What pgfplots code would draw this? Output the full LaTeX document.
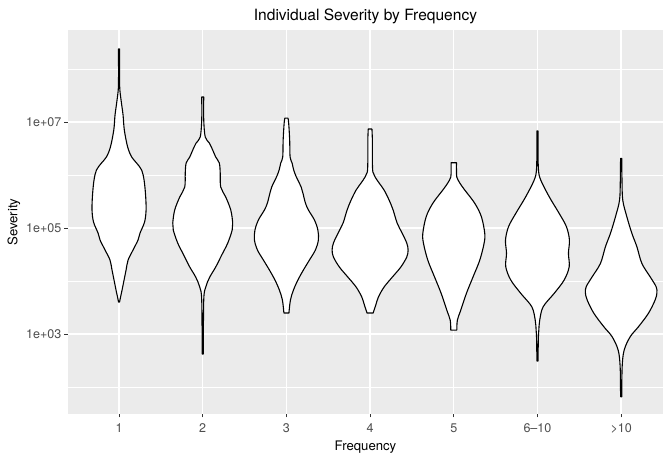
\documentclass[border=0pt]{standalone}
\usepackage{fontspec}
\setmainfont{TeX Gyre Heros}
\usepackage{pgfplots}
\usepgfplotslibrary{fillbetween}
\usepackage{pgfplotstable}
\pgfplotsset{compat=1.18}

\definecolor{panelbg}{HTML}{EBEBEB}
\definecolor{grey20}{HTML}{333333}
\definecolor{grey30}{HTML}{4D4D4D}

% Violin outlines: ly = log10(severity), w = half-width (category units)
\pgfplotstableread{
ly w
3.604 0.006
3.698 0.018
3.830 0.036
4.019 0.060
4.208 0.084
4.396 0.108
4.585 0.167
4.774 0.227
4.906 0.251
5.113 0.305
5.340 0.323
5.623 0.317
5.906 0.299
6.094 0.270
6.226 0.210
6.340 0.151
6.528 0.103
6.849 0.063
7.132 0.048
7.415 0.024
7.698 0.007
8.377 0.007
}\vA
\pgfplotstableread{
ly w
2.623 0.007
3.642 0.012
3.887 0.036
4.075 0.084
4.264 0.155
4.491 0.227
4.717 0.299
4.962 0.352
5.094 0.358
5.340 0.335
5.585 0.275
5.774 0.215
6.038 0.209
6.226 0.198
6.340 0.155
6.472 0.119
6.604 0.079
6.717 0.030
7.038 0.012
7.472 0.012
}\vB
\pgfplotstableread{
ly w
3.396 0.030
3.642 0.048
3.830 0.084
4.019 0.137
4.208 0.203
4.396 0.275
4.585 0.346
4.774 0.382
4.962 0.376
5.151 0.335
5.340 0.263
5.472 0.227
5.660 0.197
5.774 0.176
5.962 0.119
6.094 0.087
6.226 0.068
6.340 0.044
6.660 0.039
6.981 0.027
7.075 0.018
}\vC
\pgfplotstableread{
ly w
3.396 0.036
3.547 0.068
3.698 0.099
3.887 0.167
4.075 0.266
4.264 0.367
4.453 0.438
4.585 0.454
4.717 0.438
4.906 0.382
5.094 0.323
5.340 0.275
5.528 0.227
5.717 0.167
5.849 0.108
5.962 0.060
6.057 0.033
6.283 0.027
6.660 0.027
6.868 0.022
}\vD
\pgfplotstableread{
ly w
3.075 0.036
3.264 0.043
3.453 0.084
3.768 0.151
4.081 0.231
4.396 0.311
4.711 0.362
4.900 0.370
5.213 0.330
5.466 0.251
5.717 0.131
5.849 0.072
5.962 0.036
6.094 0.032
6.232 0.032
}\vE
\pgfplotstableread{
ly w
2.491 0.007
2.887 0.010
3.075 0.016
3.264 0.027
3.515 0.068
3.768 0.200
4.019 0.319
4.270 0.379
4.523 0.370
4.774 0.382
5.025 0.346
5.277 0.259
5.591 0.140
5.906 0.039
6.094 0.012
6.472 0.007
6.830 0.007
}\vF
\pgfplotstableread{
ly w
1.817 0.007
2.383 0.012
2.698 0.036
2.949 0.108
3.138 0.207
3.391 0.326
3.642 0.406
3.774 0.427
3.892 0.418
4.081 0.346
4.334 0.247
4.647 0.188
4.900 0.128
5.213 0.068
5.528 0.019
5.906 0.010
6.315 0.007
}\vG

% one violin: right and left sides, then the closed outline
% (left side bottom-to-top, right side top-to-bottom)
\newcommand{\violin}[2]{%
  \addplot[draw=none, smooth, tension=0.55, name path=R#1]
    table[x expr=#1+\thisrow{w}, y expr=10^(\thisrow{ly})] {#2};
  \addplot[draw=none, smooth, tension=0.55, name path=L#1]
    table[x expr=#1-\thisrow{w}, y expr=10^(\thisrow{ly})] {#2};
  \path[fill=white, draw=black, line width=1.1bp, line join=round,
    intersection segments={of=L#1 and R#1, sequence={L* -- R*[reverse]}}] -- cycle;
}

\begin{document}
\begin{tikzpicture}[x=1bp,y=1bp]
\begin{axis}[
  at={(0,0)}, anchor=south west,
  scale only axis, width=595bp, height=384bp,
  ymode=log,
  xmin=0.39, xmax=7.5,
  ymin=31, ymax=5.45e8,
  axis background/.style={fill=panelbg},
  axis line style={draw=none},
  xtick={1,2,3,4,5,6,7},
  xticklabels={1,2,3,4,5,6--10,>10},
  ytick={1e3,1e5,1e7},
  yticklabels={1e+03,1e+05,1e+07},
  minor ytick={1e2,1e4,1e6,1e8},
  xmajorgrids, ymajorgrids, yminorgrids,
  major grid style={white, line width=1.4bp},
  minor grid style={white, line width=0.7bp},
  tick pos=left, tick align=outside,
  major tick length=3.5bp, minor tick length=0pt,
  tick style={grey20, line width=1.0bp},
  ticklabel style={font=\fontsize{12.6}{14}\selectfont, text=grey30, inner sep=0pt},
  xticklabel style={anchor=base, yshift=-15bp},
  yticklabel style={anchor=east, xshift=-3bp},
  xlabel={Frequency},
  ylabel={Severity},
  label style={font=\fontsize{13.2}{15}\selectfont, inner sep=0pt},
  xlabel style={at={(axis description cs:0.5,0)}, anchor=base, yshift=-36bp},
  ylabel style={at={(axis description cs:0,0.5)}, anchor=base, yshift=50.5bp},
  title={Individual Severity by Frequency},
  title style={font=\fontsize{15.6}{18}\selectfont, inner sep=0pt,
    at={(axis description cs:0.5,1)}, anchor=base, yshift=3.7bp},
  clip=true,
]
\violin{1}{\vA}
\violin{2}{\vB}
\violin{3}{\vC}
\violin{4}{\vD}
\violin{5}{\vE}
\violin{6}{\vF}
\violin{7}{\vG}
\end{axis}
\pgfresetboundingbox
\path[use as bounding box] (-68bp,-44bp) rectangle (595bp,414bp);
\end{tikzpicture}
\end{document}
